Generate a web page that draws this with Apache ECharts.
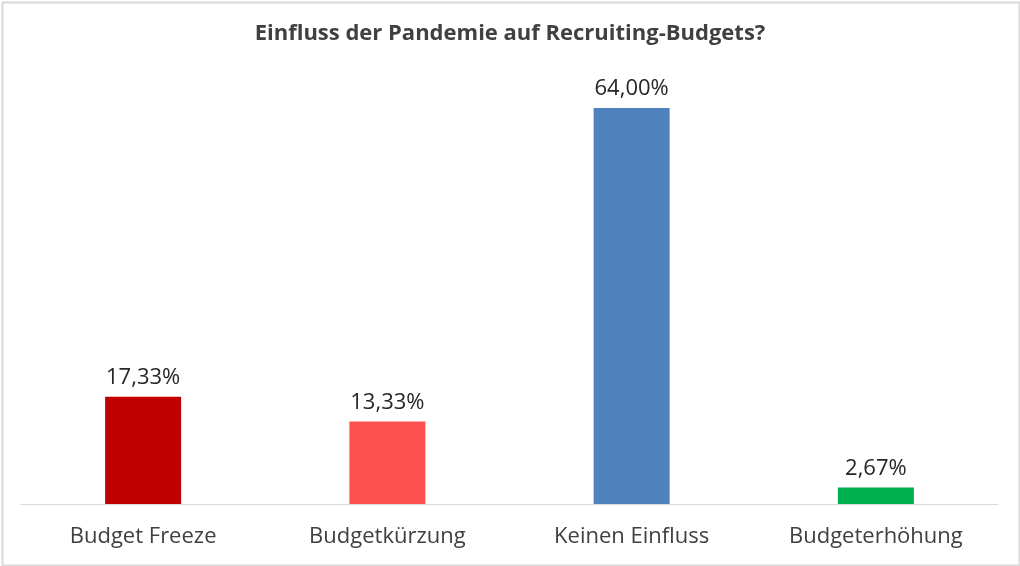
<!DOCTYPE html>
<html><head><meta charset="utf-8">
<script src="https://cdn.jsdelivr.net/npm/echarts@6/dist/echarts.min.js"></script>
<style>html,body{margin:0;padding:0;background:#fff}#c{width:1020px;height:566px}</style>
</head><body><div id="c"></div>
<script>
const title = 'Einfluss der Pandemie auf Recruiting-Budgets?';
const categories = ['Budget Freeze', 'Budgetkürzung', 'Keinen Einfluss', 'Budgeterhöhung'];
const values = [17.33, 13.33, 64.00, 2.67];
const colors = ['#C00000', '#FF5050', '#4F81BD', '#00B050'];

const chart = echarts.init(document.getElementById('c'));
const font = '"Open Sans", sans-serif';
chart.setOption({
  animation: false,
  title: {
    text: title, left: 'center', top: 18,
    textStyle: { fontFamily: font, fontSize: 22, fontWeight: 'bold', color: '#404040' }
  },
  graphic: [{
    type: 'rect', left: 0, top: 0, silent: true, z: -1,
    shape: { x: 1, y: 1, width: 1017, height: 563 },
    style: { fill: 'none', stroke: '#d9d9d9', lineWidth: 2 }
  }],
  grid: { left: 21, right: 22, top: 71, bottom: 62 },
  xAxis: {
    type: 'category', data: categories,
    axisLine: { lineStyle: { color: '#d9d9d9', width: 1 } },
    axisTick: { show: false },
    axisLabel: { fontFamily: font, fontSize: 22, color: '#404040', margin: 22 }
  },
  yAxis: {
    type: 'value', min: 0, max: 70, show: false,
    splitLine: { show: false }
  },
  series: [{
    type: 'bar', barWidth: 76,
    data: values.map((v, i) => ({ value: v, itemStyle: { color: colors[i] } })),
    label: {
      show: true, position: 'top', distance: 8,
      fontFamily: font, fontSize: 22, color: '#262626',
      formatter: p => p.value.toFixed(2).replace('.', ',') + '%'
    }
  }]
});
</script></body></html>
